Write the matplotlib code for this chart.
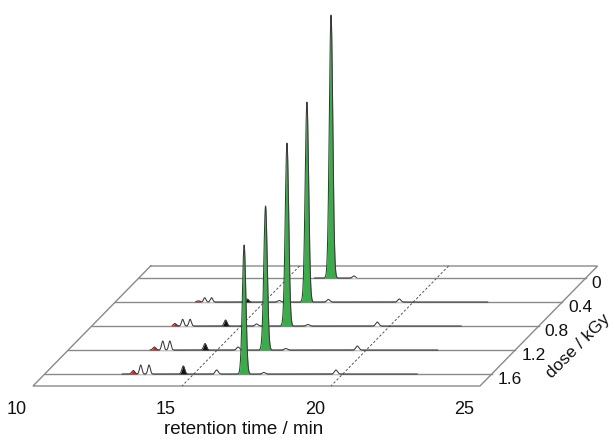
import numpy as np
import matplotlib
matplotlib.use("Agg")
import matplotlib.pyplot as plt
import matplotlib.transforms as mtransforms

# ---------------- data ----------------
doses = [0.0, 0.4, 0.8, 1.2, 1.6]
dose_labels = ["0", "0.4", "0.8", "1.2", "1.6"]
time_ticks = [10, 15, 20, 25]
grid_times = [15, 20]

trace_start = [15.9, 12.7, 12.7, 12.75, 12.6]
trace_end = [17.3, 22.5, 22.4, 22.4, 22.5]

green_rt = [16.45, 16.43, 16.55, 16.62, 16.69]
green_h = [263, 200, 183, 144, 129]

black_rt = [14.40, 14.43, 14.49, 14.59, 14.65]
black_h = [0, 3, 6, 6.5, 8]

red_rt = [12.79, 12.79, 12.79, 12.89, 12.97]
red_h = [0, 1.2, 2.5, 3.0, 3.5]

white1_rt = [13.00, 13.00, 13.05, 13.17, 13.22]
white1_h = [0, 4.3, 6.7, 9.0, 9.0]
white2_rt = [13.23, 13.23, 13.30, 13.41, 13.50]
white2_h = [0, 4.3, 6.7, 9.0, 9.0]

bump1_rt = [15.50, 15.50, 15.53, 15.70, 15.77]
bump1_h = [0, 1.5, 2.0, 3.0, 4.0]
bump2_rt = [17.22, 17.15, 17.25, 17.30, 17.35]
bump2_h = [2.0, 2.5, 1.5, 1.5, 1.5]
bump3_rt = [19.50, 19.53, 19.58, 19.70, 19.77]
bump3_h = [0, 3.0, 4.0, 4.0, 4.0]

# ---------------- figure ----------------
plt.rcParams["font.family"] = ["Liberation Sans", "DejaVu Sans"]

fig = plt.figure(figsize=(6.14, 4.41), dpi=100)
ax = fig.add_axes([0, 0, 1, 1])
ax.set_xlim(8.893, 29.497)
ax.set_ylim(-55, 386)
ax.axis("off")

T0, T1 = 10, 25
D_BACK, D_FRONT = -0.2, 1.8
KX = 1.973   # horizontal shift (min) per dose unit of depth
KY = 60.0    # vertical shift (signal units) per dose unit of depth

floor = mtransforms.Affine2D.from_values(1, 0, -KX, -KY, D_FRONT * KX, D_FRONT * KY) + ax.transData

edge_col = "#8a8a8a"
# floor outline
ax.plot([T0, T1, T1, T0, T0], [D_BACK, D_BACK, D_FRONT, D_FRONT, D_BACK],
        transform=floor, color=edge_col, lw=1.0, zorder=1, solid_joinstyle="miter")
# row baselines
for d in doses:
    ax.plot([T0, T1], [d, d], transform=floor, color=edge_col, lw=1.0, zorder=1)
# dashed time guides
for g in grid_times:
    ax.plot([g, g], [D_BACK, D_FRONT], transform=floor, color="#555555",
            lw=0.7, ls=(0, (2.5, 2.0)), zorder=1.5)

# traces, back to front
GREEN = "#3aac4a"
for i, d in enumerate(doses):
    tr = mtransforms.Affine2D().translate((D_FRONT - d) * KX, (D_FRONT - d) * KY) + ax.transData
    t = np.arange(trace_start[i], trace_end[i], 0.004)
    comps = [
        (green_rt[i], green_h[i], 0.058, GREEN),
        (black_rt[i], black_h[i], 0.048, "#111111"),
        (red_rt[i], red_h[i], 0.05, "#e0201e"),
        (white1_rt[i], white1_h[i], 0.04, "white"),
        (white2_rt[i], white2_h[i], 0.04, "white"),
        (bump1_rt[i], bump1_h[i], 0.05, "white"),
        (bump2_rt[i], bump2_h[i], 0.05, "white"),
        (bump3_rt[i], bump3_h[i], 0.05, "white"),
    ]
    y = np.zeros_like(t)
    for rt, h, s, c in comps:
        y += h * np.exp(-0.5 * ((t - rt) / s) ** 2)
    z = 3 + i
    for rt, h, s, c in comps:
        if h <= 0:
            continue
        m = np.abs(t - rt) < 3.5 * s
        ax.fill_between(t[m], 0, y[m], color=c, lw=0, transform=tr, zorder=z)
    ax.plot(t, y, color="#3a3a3a", lw=0.75, transform=tr, zorder=z + 0.5)

# x tick labels
off_x = mtransforms.ScaledTranslation(-16 / 100, -24 / 100, fig.dpi_scale_trans)
for tt in time_ticks:
    ax.text(tt, D_FRONT, str(tt), transform=floor + off_x, ha="center",
            va="center", fontsize=13, color="#111111")

# dose tick labels
off_d = mtransforms.ScaledTranslation(6 / 100, -6 / 100, fig.dpi_scale_trans)
for d, lab in zip(doses, dose_labels):
    ax.text(T1, d, lab, transform=floor + off_d, ha="left", va="center",
            fontsize=12.5, color="#111111")

fig.text(244 / 614, 1 - 430 / 441, "retention time / min", ha="center", va="center",
         fontsize=13.5, color="#111111")
fig.text(578 / 614, 1 - 346 / 441, "dose / kGy", ha="center", va="center",
         rotation=45, fontsize=12.5, color="#111111")

fig.savefig("out.png", dpi=100)
